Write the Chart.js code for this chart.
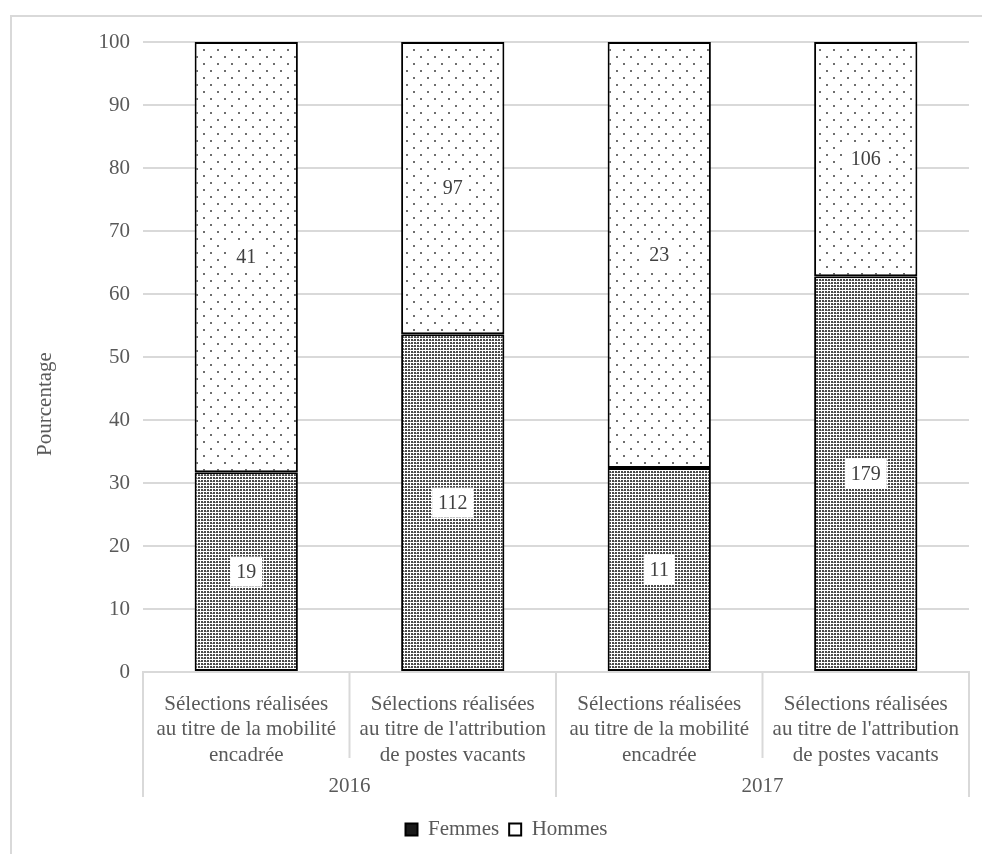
<!DOCTYPE html>
<html>
<head>
<meta charset="utf-8">
<script src="https://cdn.jsdelivr.net/npm/chart.js@4"></script>
<style>
  body { margin: 0; background: #fff; }
  #wrap { position: relative; width: 982px; height: 854px; overflow: hidden; }
  #frame { position: absolute; left: 10px; top: 15px; width: 1000px; height: 900px;
           border-left: 2px solid #d9d9d9; border-top: 2px solid #d9d9d9; }
  canvas { position: absolute; left: 0; top: 0; }
</style>
</head>
<body>
<div id="wrap">
  <div id="frame"></div>
  <canvas id="chart" width="982" height="854"></canvas>
</div>
<script>
// ===== Data =====
const categories = [
  ["Sélections réalisées", "au titre de la mobilité", "encadrée"],
  ["Sélections réalisées", "au titre de l'attribution", "de postes vacants"],
  ["Sélections réalisées", "au titre de la mobilité", "encadrée"],
  ["Sélections réalisées", "au titre de l'attribution", "de postes vacants"]
];
const years = ["2016", "2017"];
const perYear = 2;

// percentages (bar heights) and counts (labels)
const femmesPct = [31.7, 53.6, 32.4, 62.8];
const hommesPct = [68.3, 46.4, 67.6, 37.2];
const femmesCount = [19, 112, 11, 179];
const hommesCount = [41, 97, 23, 106];

const yTicks = [0, 10, 20, 30, 40, 50, 60, 70, 80, 90, 100];

const FONT = "'Liberation Serif', 'Times New Roman', serif";
const GREY = "#595959";
const LINE = "#d9d9d9";

// ===== Patterns =====
function makePattern(size, draw) {
  const c = document.createElement("canvas");
  c.width = size; c.height = size;
  const ctx = c.getContext("2d");
  draw(ctx);
  return ctx.createPattern(c, "repeat");
}
const ctxMain = document.getElementById("chart").getContext("2d");

// sparse dots for Hommes
const hommesPattern = makePattern(14, g => {
  g.fillStyle = "#fff";
  g.fillRect(0, 0, 14, 14);
  g.fillStyle = "#6e6e6e";
  g.fillRect(0, 0, 2, 2);
  g.fillRect(7, 7, 2, 2);
});

// dense dots for Femmes
const femmesPattern = makePattern(6, g => {
  g.fillStyle = "#fff";
  g.fillRect(0, 0, 6, 6);
  g.fillStyle = "#4a4a4a";
  g.fillRect(0, 0, 2, 2);
  g.fillRect(3, 0, 2, 2);
  g.fillRect(0, 3, 2, 2);
  g.fillRect(3, 3, 2, 2);
  g.fillStyle = "#9a9a9a";
  g.fillRect(2, 1, 1, 1);
  g.fillRect(5, 4, 1, 1);
});

// ===== Plugins =====
const countLabels = {
  id: "countLabels",
  afterDatasetsDraw(chart) {
    const ctx = chart.ctx;
    const counts = [femmesCount, hommesCount];
    ctx.save();
    ctx.font = "20px " + FONT;
    ctx.textAlign = "center";
    ctx.textBaseline = "middle";
    chart.data.datasets.forEach((ds, di) => {
      chart.getDatasetMeta(di).data.forEach((bar, i) => {
        const txt = String(counts[di][i]);
        const cx = bar.x;
        const cy = (bar.y + bar.base) / 2;
        const w = ctx.measureText(txt).width + 12;
        const h = 30;
        ctx.fillStyle = "#fff";
        ctx.fillRect(cx - w / 2, cy - h / 2, w, h);
        ctx.fillStyle = "#404040";
        ctx.fillText(txt, cx, cy + 1);
      });
    });
    ctx.restore();
  }
};

const axisExtras = {
  id: "axisExtras",
  afterDraw(chart) {
    const ctx = chart.ctx;
    const xs = chart.scales.x;
    const area = chart.chartArea;
    const n = categories.length;
    const step = (xs.right - xs.left) / n;
    ctx.save();
    ctx.strokeStyle = LINE;
    ctx.lineWidth = 2;
    for (let k = 0; k <= n; k++) {
      const x = xs.left + k * step;
      const long = k % perYear === 0;
      ctx.beginPath();
      ctx.moveTo(x, area.bottom);
      ctx.lineTo(x, area.bottom + (long ? 125 : 86));
      ctx.stroke();
    }
    // year labels
    ctx.font = "21px " + FONT;
    ctx.fillStyle = GREY;
    ctx.textAlign = "center";
    ctx.textBaseline = "middle";
    years.forEach((yr, j) => {
      const a = xs.getPixelForValue(j * perYear);
      const b = xs.getPixelForValue(j * perYear + perYear - 1);
      ctx.fillText(yr, (a + b) / 2, area.bottom + 114);
    });
    // y title
    ctx.translate(45, (area.top + area.bottom) / 2 + 47);
    ctx.rotate(-Math.PI / 2);
    ctx.fillText("Pourcentage", 0, 0);
    ctx.restore();
  }
};

// ===== Chart =====
new Chart(ctxMain, {
  type: "bar",
  data: {
    labels: categories,
    datasets: [
      { label: "Femmes", data: femmesPct, backgroundColor: femmesPattern,
        borderColor: "#000", borderWidth: 2, borderSkipped: false },
      { label: "Hommes", data: hommesPct, backgroundColor: hommesPattern,
        borderColor: "#000", borderWidth: 2, borderSkipped: false }
    ]
  },
  options: {
    responsive: false,
    animation: false,
    devicePixelRatio: 1,
    layout: { padding: { top: 42, right: 13, left: 44, bottom: 4 } },
    datasets: { bar: { barPercentage: 0.5, categoryPercentage: 1 } },
    scales: {
      x: {
        stacked: true,
        grid: { display: false },
        border: { display: true, color: LINE, width: 2 },
        ticks: { color: GREY, font: { family: FONT, size: 21, lineHeight: 1.2 },
                 padding: 12, maxRotation: 0, autoSkip: false },
        afterFit(s) { s.height = 137; }
      },
      y: {
        stacked: true,
        min: 0, max: 100,
        afterBuildTicks(s) { s.ticks = yTicks.map(v => ({ value: v })); },
        grid: { color: LINE, lineWidth: 2, drawTicks: false },
        border: { display: false },
        ticks: { color: GREY, font: { family: FONT, size: 21 }, padding: 13 },
        afterFit(s) { s.width = 99; }
      }
    },
    plugins: {
      tooltip: { enabled: false },
      legend: {
        position: "bottom",
        labels: {
          color: GREY,
          font: { family: FONT, size: 21 },
          boxWidth: 12, boxHeight: 12, padding: 10,
          generateLabels(chart) {
            const items = Chart.defaults.plugins.legend.labels.generateLabels(chart);
            items[0].fillStyle = "#1a1a1a";
            items[1].fillStyle = "#fff";
            return items;
          }
        }
      }
    }
  },
  plugins: [countLabels, axisExtras]
});
</script>
</body>
</html>
